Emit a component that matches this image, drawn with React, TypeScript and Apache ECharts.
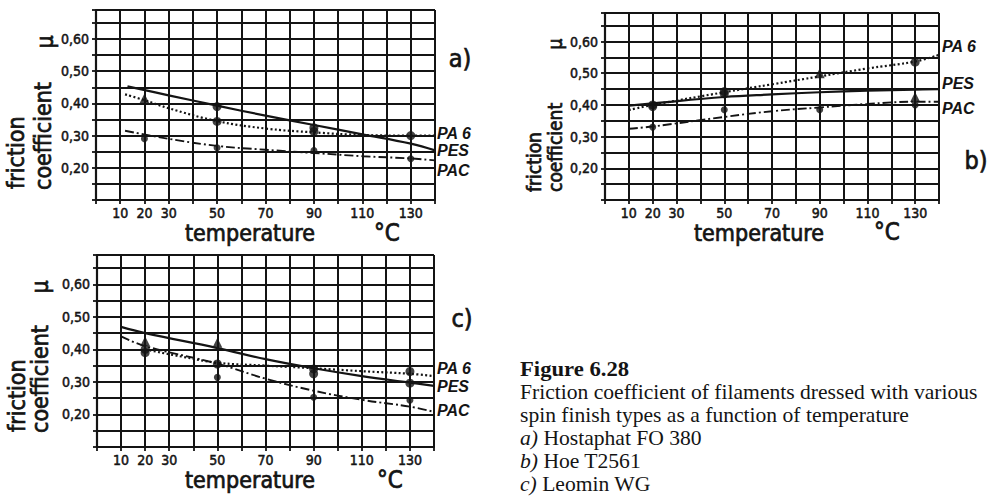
import { useEffect, useRef } from 'react';
import * as echarts from 'echarts';

// ---- shared axis content ----
const xTickValues = [10, 20, 30, 50, 70, 90, 110, 130];
const yTickValues = [0.2, 0.3, 0.4, 0.5, 0.6];
const yTickLabels = ['0,20', '0,30', '0,40', '0,50', '0,60'];
const materials = ['PA 6', 'PES', 'PAC'];
const panelLetters = ['a)', 'b)', 'c)'];
const xName = 'temperature';
const xUnit = '°C';
const yNameLines = ['friction', 'coefficient'];
const ySymbol = 'μ';

// ---- panel a) Hostaphat FO 380 ----
const aPA6Curve = [[12, 0.428], [20, 0.41], [30, 0.385], [50, 0.345], [70, 0.322], [90, 0.31], [110, 0.302], [130, 0.3], [140, 0.3]];
const aPESCurve = [[13, 0.453], [30, 0.425], [50, 0.393], [70, 0.362], [90, 0.333], [110, 0.304], [130, 0.275], [140, 0.254]];
const aPACCurve = [[12, 0.315], [30, 0.29], [50, 0.268], [70, 0.256], [90, 0.246], [110, 0.236], [130, 0.229], [140, 0.223]];
const aPA6Pts = [[50, 0.344], [90, 0.313], [130, 0.3]];
const aPESPts = [[50, 0.39], [90, 0.324]];
const aPACPts = [[20, 0.29], [50, 0.262], [90, 0.254], [130, 0.228]];
const aTriPts = [[20, 0.415]];

// ---- panel b) Hoe T2561 ----
const bPA6Curve = [[10, 0.384], [20, 0.4], [50, 0.44], [70, 0.465], [90, 0.49], [110, 0.515], [130, 0.537], [140, 0.558]];
const bPESCurve = [[10, 0.398], [20, 0.405], [50, 0.425], [70, 0.433], [90, 0.44], [110, 0.445], [130, 0.448], [140, 0.45]];
const bPACCurve = [[10, 0.325], [20, 0.332], [50, 0.362], [70, 0.38], [90, 0.392], [110, 0.403], [130, 0.41], [140, 0.41]];
const bPA6Pts = [[20, 0.4], [50, 0.435], [130, 0.535]];
const bPESPts = [[20, 0.395], [50, 0.442]];
const bPACPts = [[20, 0.33], [50, 0.385], [90, 0.385], [130, 0.4]];
const bTriPts = [[90, 0.5], [130, 0.425]];

// ---- panel c) Leomin WG ----
const cPA6Curve = [[20, 0.4], [35, 0.378], [50, 0.359], [70, 0.35], [90, 0.342], [110, 0.333], [130, 0.325], [140, 0.318]];
const cPESCurve = [[10, 0.469], [20, 0.45], [50, 0.404], [70, 0.37], [90, 0.342], [110, 0.318], [130, 0.298], [140, 0.288]];
const cPACCurve = [[10, 0.44], [20, 0.41], [50, 0.356], [70, 0.31], [90, 0.273], [110, 0.245], [130, 0.224], [140, 0.208]];
const cPA6Pts = [[20, 0.39], [50, 0.355], [90, 0.34], [130, 0.332]];
const cPESPts = [[20, 0.4], [90, 0.325], [130, 0.296]];
const cPACPts = [[50, 0.314], [90, 0.253], [130, 0.244]];
const cTriPts = [[20, 0.425], [50, 0.42]];

// ---- caption ----
const captionTitle = 'Figure 6.28';
const captionLines = [
  'Friction coefficient of filaments dressed with various',
  'spin finish types as a function of temperature',
];
const captionItems = [
  ['a)', 'Hostaphat FO 380'],
  ['b)', 'Hoe T2561'],
  ['c)', 'Leomin WG'],
];

const INK = '#141414';
const FONT = "'DejaVu Sans Condensed', 'DejaVu Sans', sans-serif";
const SERIF = "'Liberation Serif', 'DejaVu Serif', serif";

const panels = [
  {
    grid: { left: 96, top: 10, width: 339, height: 190 },
    curves: [aPA6Curve, aPESCurve, aPACCurve],
    pts: [aPA6Pts, aPESPts, aPACPts],
    tri: aTriPts,
  },
  {
    grid: { left: 605, top: 13, width: 334, height: 187 },
    curves: [bPA6Curve, bPESCurve, bPACCurve],
    pts: [bPA6Pts, bPESPts, bPACPts],
    tri: bTriPts,
  },
  {
    grid: { left: 97, top: 255, width: 337, height: 192 },
    curves: [cPA6Curve, cPESCurve, cPACCurve],
    pts: [cPA6Pts, cPESPts, cPACPts],
    tri: cTriPts,
  },
];

// text placements (layout)
const layout = [
  {
    letter: [460, 58], matLabelX: 437, matLabelY: [133, 150, 170],
    xName: [250, 233], xUnit: [387, 233], xNameSize: 23,
    yName: [[16, 189], [43, 190]], yNameSize: 23, mu: [45, 42],
  },
  {
    letter: [976, 160], matLabelX: 942, matLabelY: [46, 83, 108],
    xName: [759, 233], xUnit: [887, 232], xNameSize: 23,
    yName: [[534, 192], [555, 192]], yNameSize: 19, mu: [555, 44],
  },
  {
    letter: [462, 318], matLabelX: 437, matLabelY: [368, 386, 410],
    xName: [250, 480], xUnit: [390, 480], xNameSize: 23,
    yName: [[17, 432], [40, 433]], yNameSize: 23, mu: [40, 287],
  },
];

const lineStyles: any[] = [
  { color: INK, width: 2.2, type: [2, 2.4] },
  { color: INK, width: 2.2, type: 'solid' },
  { color: INK, width: 1.9, type: [9, 3, 2, 3] },
];

const heavy = { stroke: INK, lineWidth: 0.7 };

function buildOption() {
  const grid: any[] = [];
  const xAxis: any[] = [];
  const yAxis: any[] = [];
  const series: any[] = [];
  const graphic: any[] = [];

  panels.forEach((p, gi) => {
    grid.push({ ...p.grid, containLabel: false });
    xAxis.push({
      gridIndex: gi, type: 'value', min: 0, max: 140, interval: 10,
      axisLine: { show: true, lineStyle: { color: INK, width: 2.2 } },
      axisTick: { show: true, length: 4, lineStyle: { color: INK, width: 1.8 } },
      axisLabel: {
        margin: 6, fontSize: 14, color: INK, fontFamily: FONT,
        textBorderColor: INK, textBorderWidth: 0.5,
        formatter: (v: number) => (xTickValues.some((t) => Math.abs(t - v) < 1e-6) ? String(v) : ''),
      },
      splitLine: { show: true, lineStyle: { color: INK, width: 2 } },
    });
    yAxis.push({
      gridIndex: gi, type: 'value', min: 0.1, max: 0.69, interval: 0.05,
      axisLine: { show: true, lineStyle: { color: INK, width: 2.2 } },
      axisTick: { show: true, length: 4, lineStyle: { color: INK, width: 1.8 } },
      axisLabel: {
        margin: 7, fontSize: 14, color: INK, fontFamily: FONT,
        textBorderColor: INK, textBorderWidth: 0.5,
        formatter: (v: number) => {
          const i = yTickValues.findIndex((t) => Math.abs(t - v) < 1e-6);
          return i >= 0 ? yTickLabels[i] : '';
        },
      },
      splitLine: { show: true, lineStyle: { color: INK, width: 2 } },
    });

    p.curves.forEach((c, mi) => {
      series.push({
        type: 'line', name: materials[mi] + gi, xAxisIndex: gi, yAxisIndex: gi,
        data: c, smooth: 0.4, showSymbol: false, symbol: 'none',
        lineStyle: lineStyles[mi], z: 5,
      });
    });
    p.pts.forEach((pts, mi) => {
      series.push({
        type: 'scatter', xAxisIndex: gi, yAxisIndex: gi, data: pts,
        symbol: 'circle', symbolSize: mi === 2 ? 7 : 9,
        itemStyle: { color: INK }, z: 6,
      });
    });
    series.push({
      type: 'scatter', xAxisIndex: gi, yAxisIndex: gi, data: p.tri,
      symbol: 'triangle', symbolSize: 10, itemStyle: { color: INK }, z: 6,
    });

    const L = layout[gi];
    graphic.push({
      type: 'text', x: L.letter[0], y: L.letter[1],
      style: { text: panelLetters[gi], fill: INK, ...heavy, font: `25px ${FONT}`, align: 'center', verticalAlign: 'middle' },
    });
    materials.forEach((m, mi) => {
      graphic.push({
        type: 'text', x: L.matLabelX, y: L.matLabelY[mi],
        style: { text: m, fill: INK, font: `italic bold 16px 'Liberation Sans Narrow', 'Liberation Sans', sans-serif`, align: 'left', verticalAlign: 'middle' },
      });
    });
    graphic.push({
      type: 'text', x: L.xName[0], y: L.xName[1],
      style: { text: xName, fill: INK, ...heavy, font: `${L.xNameSize}px ${FONT}`, align: 'center', verticalAlign: 'middle' },
    });
    graphic.push({
      type: 'text', x: L.xUnit[0], y: L.xUnit[1],
      style: { text: xUnit, fill: INK, ...heavy, font: `${L.xNameSize + 1}px ${FONT}`, align: 'center', verticalAlign: 'middle' },
    });
    yNameLines.forEach((t, li) => {
      graphic.push({
        type: 'text', x: L.yName[li][0], y: L.yName[li][1], rotation: Math.PI / 2,
        style: { text: t, fill: INK, ...heavy, font: `${L.yNameSize}px ${FONT}`, align: 'left', verticalAlign: 'middle' },
      });
    });
    graphic.push({
      type: 'text', x: L.mu[0], y: L.mu[1], rotation: Math.PI / 2,
      style: { text: ySymbol, fill: INK, ...heavy, font: `${L.yNameSize}px ${FONT}`, align: 'center', verticalAlign: 'middle' },
    });
  });

  // caption
  graphic.push({
    type: 'text', x: 520, y: 369, scaleX: 1.08,
    style: { text: captionTitle, fill: INK, font: `bold 21px ${SERIF}`, align: 'left', verticalAlign: 'middle' },
  });
  captionLines.forEach((t, i) => {
    graphic.push({
      type: 'text', x: 520, y: 392 + i * 23, scaleX: 1.08,
      style: { text: t, fill: INK, font: `20px ${SERIF}`, align: 'left', verticalAlign: 'middle' },
    });
  });
  captionItems.forEach(([k, t], i) => {
    graphic.push({
      type: 'text', x: 520, y: 438 + i * 23, scaleX: 1.08,
      style: {
        text: `{k|${k}} ${t}`, fill: INK, font: `20px ${SERIF}`, align: 'left', verticalAlign: 'middle',
        rich: { k: { font: `italic 20px ${SERIF}`, fill: INK } },
      },
    });
  });

  return { animation: false, backgroundColor: '#fff', grid, xAxis, yAxis, series, graphic };
}

export default function App() {
  const ref = useRef<HTMLDivElement>(null);
  useEffect(() => {
    if (!ref.current) return;
    const chart = echarts.init(ref.current, null, { renderer: 'svg' });
    chart.setOption(buildOption() as any);
    return () => chart.dispose();
  }, []);
  return (
    <div
      ref={ref}
      style={{ position: 'absolute', left: 0, top: 0, width: 993, height: 499, background: '#fff' }}
    />
  );
}
